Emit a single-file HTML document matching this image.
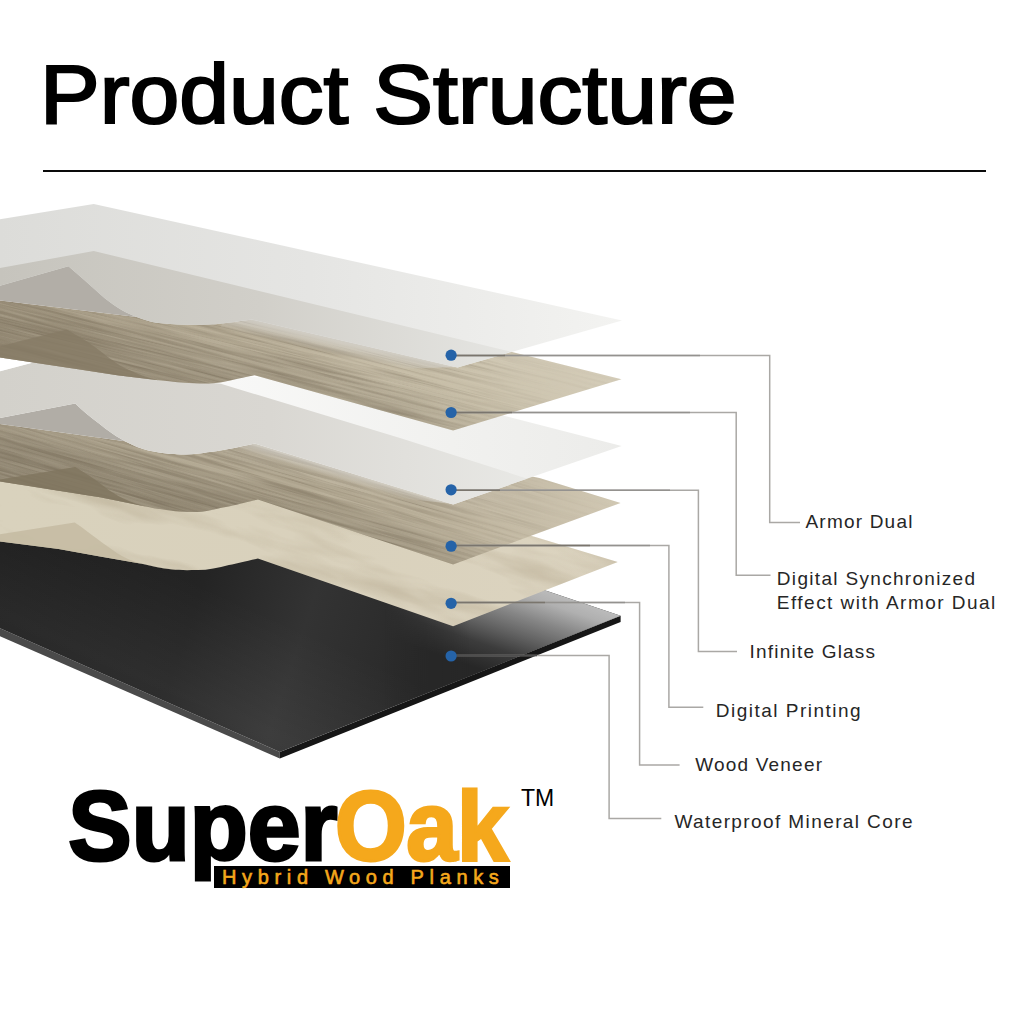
<!DOCTYPE html>
<html>
<head>
<meta charset="utf-8">
<title>Product Structure</title>
<style>
  html, body { margin: 0; padding: 0; background: #ffffff; }
  body { width: 1024px; height: 1024px; position: relative; overflow: hidden;
         font-family: "Liberation Sans", sans-serif; color: #000; }
  #title { position: absolute; left: 40px; top: 44px; font-size: 83.5px; line-height: 100px;
           white-space: nowrap; letter-spacing: 0px; -webkit-text-stroke: 2.2px #000;
           transform-origin: 0 0; transform: scaleX(1.072); }
  #rule { position: absolute; left: 42.7px; top: 169.6px; width: 943.5px; height: 2.2px; background: #0a0a0a; }
  svg#art { position: absolute; left: 0; top: 0; }
  .lbl { position: absolute; font-size: 19px; line-height: 24px; letter-spacing: 1.2px;
         white-space: nowrap; color: #262626; }
  .logo { position: absolute; font-size: 96px; line-height: 110px; font-weight: bold; white-space: nowrap;
          transform-origin: 0 0; }
  #super { left: 68.3px; top: 769.6px; color: #000; -webkit-text-stroke: 3px #000; transform: scale(1.0, 1.025); letter-spacing: 0px; font-size: 95px; }
  #oak { left: 335px; top: 769.6px; color: #f5a81c; -webkit-text-stroke: 3px #f5a81c; transform: scale(0.97, 1.025); letter-spacing: -0.5px; font-size: 95px; }
  #bar { position: absolute; left: 214px; top: 866px; width: 296px; height: 22px; background: #000; }
  #bar span { position: absolute; left: 8px; top: 0px; font-size: 20px; line-height: 22px; font-weight: normal; -webkit-text-stroke: 0.6px #f5a81c;
              letter-spacing: 5.65px; color: #f5a81c; white-space: nowrap; }
  #tm { position: absolute; left: 521px; top: 785px; font-size: 23px; line-height: 26px; }
</style>
</head>
<body>
<div id="title">Product Structure</div>
<div id="rule"></div>

<svg id="art" width="1024" height="1024" viewBox="0 0 1024 1024">
  <defs>
    <!-- layer outlines -->
    <path id="pCoreTop" d="M0,530 L300,530 L547,591 L620.6,615.8 L279.8,752 L0,628.2 Z"/>
    <path id="pVen" d="M0,470 L300,470 L534.6,536.7 L617.7,562 L453.1,626.2 L257.9,558.6 C246,561 238,563.5 228.9,565 C218,568 207,570.2 196.7,570 C187,570.2 180,570.3 170.9,569.3 C160,568 152,566 143,564 L100,556.4 L58.6,548.9 L0,541.5 Z"/>
    <path id="pW4" d="M0,424 L127,441.6 L300,430 L539.5,478.1 L620.6,502.9 L453.1,564.5 L257.9,499.5 C244,502.5 232,506 220.3,508.1 C212,510.5 204,512 196.7,512 C189,512.2 182,512 175.2,511.3 C164,510 153,508 143,505.9 L100,497.3 L0,481.6 Z"/>
    <path id="pG3" d="M0,371.25 L33.2,362.5 L300,380 L497,414 L621.6,446 L453.1,504.4 L254.7,443.6 C246,445.5 238,447.5 228.9,449 C221,450.6 214,451.5 207.4,452.2 C200,453.6 193,454.4 186,454.4 C178,454.6 171,454.3 164.5,453.3 C157,452.4 150,451 143,449 C135,446.5 128,443 121.5,439.3 C114,435 107,430 100,424.3 C91,417.5 83,411 75.2,403.5 L0,418.1 Z"/>
    <path id="pW2" d="M0,300.4 L136.7,317 L250,300 L510,351.5 L621.5,379.2 L453.1,430.5 L254.5,375.3 C243,377.5 232,380.5 223,382 C215,383.2 207,383.8 200,383.5 C185,383 170,381.5 156.25,380 L117.2,375.2 L78.1,369.3 L33.2,362.5 L0,357.4 Z"/>
    <path id="pG1" d="M0,219.3 L93.75,204 L622,320.5 L457.5,367.5 L252,319.6 C236,321.5 220,325 200,324.8 C185,324.8 170,324.6 156.3,322.8 C149,321.5 143,319.5 136.7,317 C129,314 123,311 117.2,307.2 C111,303 106,299.5 101.6,295.5 L84,279.8 L68.4,266.2 L0,285.7 Z"/>
    <clipPath id="cCore"><use href="#pCoreTop"/></clipPath>
    <clipPath id="cVen"><use href="#pVen"/></clipPath>
    <clipPath id="cW4"><use href="#pW4"/></clipPath>
    <clipPath id="cG3"><use href="#pG3"/></clipPath>
    <clipPath id="cW2"><use href="#pW2"/></clipPath>
    <clipPath id="cG1"><use href="#pG1"/></clipPath>

    <linearGradient id="gCoreHi" gradientUnits="userSpaceOnUse" x1="580" y1="602.3" x2="549.6" y2="692.3">
      <stop offset="0" stop-color="#bababa"/>
      <stop offset="0.12" stop-color="#b0b0b0"/>
      <stop offset="0.33" stop-color="#868686"/>
      <stop offset="0.54" stop-color="#616161"/>
      <stop offset="0.74" stop-color="#3c3c3c"/>
      <stop offset="1" stop-color="#272727"/>
    </linearGradient>
    <linearGradient id="gCoreMaskG" gradientUnits="userSpaceOnUse" x1="385" y1="0" x2="470" y2="0">
      <stop offset="0" stop-color="#000"/>
      <stop offset="1" stop-color="#fff"/>
    </linearGradient>
    <mask id="mCoreHi" maskUnits="userSpaceOnUse" x="0" y="500" width="700" height="300">
      <rect x="0" y="500" width="700" height="300" fill="url(#gCoreMaskG)"/>
    </mask>
    <linearGradient id="gCoreBase" gradientUnits="userSpaceOnUse" x1="0" y1="560" x2="420" y2="700">
      <stop offset="0" stop-color="#1e1e1e"/>
      <stop offset="0.45" stop-color="#242424"/>
      <stop offset="0.7" stop-color="#333333"/>
      <stop offset="1" stop-color="#282828"/>
    </linearGradient>
    <linearGradient id="gCoreSheen" gradientUnits="userSpaceOnUse" x1="150" y1="560" x2="60" y2="760">
      <stop offset="0" stop-color="#ffffff" stop-opacity="0"/>
      <stop offset="0.5" stop-color="#ffffff" stop-opacity="0.05"/>
      <stop offset="1" stop-color="#ffffff" stop-opacity="0"/>
    </linearGradient>
    <linearGradient id="gVen" gradientUnits="userSpaceOnUse" x1="0" y1="0" x2="620" y2="0">
      <stop offset="0" stop-color="#d9d2bd"/>
      <stop offset="0.5" stop-color="#d9d1bc"/>
      <stop offset="1" stop-color="#dcd4c0"/>
    </linearGradient>
    <linearGradient id="gW4" gradientUnits="userSpaceOnUse" x1="0" y1="0" x2="620" y2="0">
      <stop offset="0" stop-color="#a89e89"/>
      <stop offset="0.5" stop-color="#aea48e"/>
      <stop offset="0.75" stop-color="#bdb39d"/>
      <stop offset="1" stop-color="#d0c7b2"/>
    </linearGradient>
    <linearGradient id="gW2" gradientUnits="userSpaceOnUse" x1="0" y1="0" x2="620" y2="0">
      <stop offset="0" stop-color="#a79c86"/>
      <stop offset="0.45" stop-color="#b7ad97"/>
      <stop offset="0.75" stop-color="#c9c0aa"/>
      <stop offset="1" stop-color="#d4ccb8"/>
    </linearGradient>
    <linearGradient id="gG1a" gradientUnits="userSpaceOnUse" x1="0" y1="0" x2="620" y2="0">
      <stop offset="0" stop-color="#dcdcd9"/>
      <stop offset="0.5" stop-color="#e5e5e3"/>
      <stop offset="1" stop-color="#f3f3f1"/>
    </linearGradient>
    <linearGradient id="gG1b" gradientUnits="userSpaceOnUse" x1="0" y1="0" x2="520" y2="0">
      <stop offset="0" stop-color="#c6c4bd"/>
      <stop offset="0.5" stop-color="#d1cfc9"/>
      <stop offset="1" stop-color="#e6e6e3"/>
    </linearGradient>
    <linearGradient id="gG3a" gradientUnits="userSpaceOnUse" x1="200" y1="0" x2="620" y2="0">
      <stop offset="0" stop-color="#f9f9f8"/>
      <stop offset="0.6" stop-color="#f1f1ef"/>
      <stop offset="1" stop-color="#ececea"/>
    </linearGradient>
    <linearGradient id="gG3b" gradientUnits="userSpaceOnUse" x1="0" y1="0" x2="540" y2="0">
      <stop offset="0" stop-color="#d3d1cb"/>
      <stop offset="0.5" stop-color="#d9d7d2"/>
      <stop offset="1" stop-color="#e9e9e6"/>
    </linearGradient>

    <linearGradient id="gW2p" gradientUnits="userSpaceOnUse" x1="300" y1="305" x2="281" y2="386">
      <stop offset="0" stop-color="#fff" stop-opacity="0.16"/>
      <stop offset="0.45" stop-color="#fff" stop-opacity="0"/>
      <stop offset="0.55" stop-color="#2a2010" stop-opacity="0"/>
      <stop offset="1" stop-color="#2a2010" stop-opacity="0.16"/>
    </linearGradient>
    <linearGradient id="gW4p" gradientUnits="userSpaceOnUse" x1="300" y1="450" x2="284" y2="516">
      <stop offset="0" stop-color="#fff" stop-opacity="0.16"/>
      <stop offset="0.45" stop-color="#fff" stop-opacity="0"/>
      <stop offset="0.55" stop-color="#2a2010" stop-opacity="0"/>
      <stop offset="1" stop-color="#2a2010" stop-opacity="0.18"/>
    </linearGradient>
    <linearGradient id="gFadeR" gradientUnits="userSpaceOnUse" x1="380" y1="0" x2="560" y2="0">
      <stop offset="0" stop-color="#fff"/>
      <stop offset="1" stop-color="#222"/>
    </linearGradient>
    <mask id="mFadeR" maskUnits="userSpaceOnUse" x="-10" y="150" width="700" height="500">
      <rect x="-10" y="150" width="700" height="500" fill="url(#gFadeR)"/>
    </mask>
    <linearGradient id="gHaze1" gradientUnits="userSpaceOnUse" x1="350" y1="341" x2="346.4" y2="357">
      <stop offset="0" stop-color="#d6d4cf" stop-opacity="0.85"/>
      <stop offset="1" stop-color="#d6d4cf" stop-opacity="0"/>
    </linearGradient>
    <linearGradient id="gHaze3" gradientUnits="userSpaceOnUse" x1="350" y1="472" x2="347" y2="482">
      <stop offset="0" stop-color="#dddbd6" stop-opacity="0.7"/>
      <stop offset="1" stop-color="#dddbd6" stop-opacity="0"/>
    </linearGradient>
    <!-- textures -->
    <filter id="fGrain" x="0" y="0" width="100%" height="100%" color-interpolation-filters="sRGB">
      <feTurbulence type="fractalNoise" baseFrequency="0.008 0.4" numOctaves="4" seed="7"/>
      <feColorMatrix type="matrix" values="0 0 0 0 0.30  0 0 0 0 0.25  0 0 0 0 0.18  2.4 0 0 0 -1.0"/>
    </filter>
    <filter id="fGrainL" x="0" y="0" width="100%" height="100%" color-interpolation-filters="sRGB">
      <feTurbulence type="fractalNoise" baseFrequency="0.007 0.33" numOctaves="4" seed="21"/>
      <feColorMatrix type="matrix" values="0 0 0 0 0.95  0 0 0 0 0.92  0 0 0 0 0.84  2.4 0 0 0 -1.0"/>
    </filter>
    <filter id="fMarble" x="0" y="0" width="100%" height="100%" color-interpolation-filters="sRGB">
      <feTurbulence type="fractalNoise" baseFrequency="0.007 0.035" numOctaves="4" seed="11"/>
      <feColorMatrix type="matrix" values="0 0 0 0 0.55  0 0 0 0 0.48  0 0 0 0 0.36  2.0 0 0 0 -0.9"/>
    </filter>
  </defs>

  <!-- 6. mineral core -->
  <g id="core">
    <path d="M0,628.2 L279.8,752 L279.8,758.5 L0,636.2 Z" fill="#4a4a4a"/>
    <path d="M279.8,752 L620.6,615.8 L620.6,622 L279.8,758.5 Z" fill="#161616"/>
    <use href="#pCoreTop" fill="url(#gCoreBase)"/>
    <g clip-path="url(#cCore)">
      <rect x="0" y="520" width="640" height="250" fill="url(#gCoreSheen)"/>
      <rect x="380" y="520" width="260" height="250" fill="url(#gCoreHi)" mask="url(#mCoreHi)"/>
    </g>
  </g>

  <!-- 5. veneer -->
  <g id="veneer">
    <use href="#pVen" fill="url(#gVen)"/>
    <g clip-path="url(#cVen)">
      <rect x="-100" y="300" width="900" height="400" filter="url(#fMarble)" transform="rotate(17 300 500)" opacity="0.3"/>
      <path d="M0,534.2 L74.7,522.5 C83,528 90,533.5 96.7,538.6 C104,544 110,548.5 117.2,553.2 C125,558 132,561 140.6,563.5 C150,566 158,567.5 175,570 L100,580 L0,560 Z" fill="#c3b9a0" opacity="0.8"/>
    </g>
  </g>

  <!-- 4. wood (digital printing) -->
  <g id="wood4">
    <use href="#pW4" fill="url(#gW4)"/>
    <g clip-path="url(#cW4)">
      <g mask="url(#mFadeR)">
        <rect x="-10" y="400" width="660" height="180" fill="url(#gW4p)"/>
        <rect x="-100" y="250" width="900" height="400" filter="url(#fGrain)" transform="rotate(16 300 480)" opacity="0.3"/>
        <rect x="-100" y="250" width="900" height="400" filter="url(#fGrainL)" transform="rotate(16 300 480)" opacity="0.2"/>
      </g>
      <path d="M0,479.6 L75.2,467 C82,471 88,475 93.75,478.7 C99,482.5 104,486.5 109.4,490.4 C115,494 120,497 125,499.2 C130,501.5 135,503.5 143,505.9 L160,512 L0,490 Z" fill="#80755f" opacity="0.85"/>
    </g>
  </g>

  <path d="M235,444 L254.7,442.6 L453.1,504 L400,498 L252,456 L225,458 Z" fill="url(#gHaze3)"/>

  <!-- 3. glass (infinite glass) -->
  <g id="glass3">
    <path d="M0,417.6 L76,402.8 L95,412 L118,432 L127,441.6 L0,424 Z" fill="#b1ada6"/>
    <use href="#pG3" fill="url(#gG3a)"/>
    <g clip-path="url(#cG3)">
      <path d="M0,371.25 L33.2,362.5 L220.8,383.8 L400,437.9 L529.7,479.4 L453.1,520 L0,520 Z" fill="url(#gG3b)"/>
    </g>
  </g>

  <!-- 2. wood (digital synchronized) -->
  <g id="wood2">
    <use href="#pW2" fill="url(#gW2)"/>
    <g clip-path="url(#cW2)">
      <g mask="url(#mFadeR)">
        <rect x="-10" y="280" width="660" height="180" fill="url(#gW2p)"/>
        <rect x="-100" y="150" width="900" height="400" filter="url(#fGrain)" transform="rotate(14 300 350)" opacity="0.3"/>
        <rect x="-100" y="150" width="900" height="400" filter="url(#fGrainL)" transform="rotate(14 300 350)" opacity="0.2"/>
      </g>
      <path d="M0,346.25 L66.4,329.6 C78,336 85,340 93.75,346.25 C102,352 110,359 117.2,363.8 C125,368.5 140,376 156.3,379.5 L170,390 L0,370 Z" fill="#867b65" opacity="0.8"/>
    </g>
  </g>

  <path d="M225,318 L252,318 L457.5,367 L395,369 L250,338 L215,338 Z" fill="url(#gHaze1)"/>

  <!-- 1. glass (armor dual) -->
  <g id="glass1">
    <path d="M0,285.2 L69,265.5 L90,275 L125,305 L136.7,317 L0,300.4 Z" fill="#b2aea7"/>
    <use href="#pG1" fill="url(#gG1a)"/>
    <g clip-path="url(#cG1)">
      <path d="M0,268.1 L93.75,251 L510,351.5 L457.5,380 L0,380 Z" fill="url(#gG1b)"/>
    </g>
  </g>

  <!-- leader lines -->
  <g id="leaders" fill="none" stroke="#aaa8a5" stroke-width="1.5">
    <path d="M451,355.4 H769.7 V522.5 H800"/>
    <path d="M451,412.6 H736.2 V575.2 H770.5"/>
    <path d="M451,490.3 H698.4 V651.6 H737"/>
    <path d="M451,545.6 H668.9 V707.2 H703.3"/>
    <path d="M451,602.6 H639.6 V765.1 H679.6"/>
    <path d="M451,655.5 H609.1 V818.5 H661.3"/>
  </g>
  <g id="leadersMid" fill="none" stroke="#94928f" stroke-width="1.5">
    <path d="M451,355.4 H700"/>
    <path d="M451,412.6 H690"/>
    <path d="M451,490.3 H670"/>
    <path d="M451,545.6 H650"/>
    <path d="M451,602.6 H625"/>
  </g>
  <g id="leadersDark" fill="none" stroke="#7a756d" stroke-width="1.5">
    <path d="M451,355.4 H505"/>
    <path d="M451,412.6 H512"/>
    <path d="M451,490.3 H500"/>
    <path d="M451,545.6 H590"/>
    <path d="M451,602.6 H545"/>
  </g>
  <path d="M451,655.5 H537" fill="none" stroke="#4e4e4e" stroke-width="1.5"/>
  <g id="dots" fill="#2563a8">
    <circle cx="451.1" cy="355.2" r="5.6"/>
    <circle cx="451.1" cy="412.5" r="5.6"/>
    <circle cx="451.1" cy="489.8" r="5.6"/>
    <circle cx="451.1" cy="546.2" r="5.6"/>
    <circle cx="451.1" cy="603.3" r="5.6"/>
    <circle cx="451.1" cy="656" r="5.6"/>
  </g>
</svg>

<div class="lbl" style="left:805.5px; top:509.8px;">Armor Dual</div>
<div class="lbl" style="left:776.8px; top:567.2px; letter-spacing:1.32px;">Digital Synchronized</div>
<div class="lbl" style="left:776.8px; top:591.4px; letter-spacing:1.47px;">Effect with Armor Dual</div>
<div class="lbl" style="left:749.6px; top:640.2px;">Infinite Glass</div>
<div class="lbl" style="left:715.7px; top:698.6px; letter-spacing:1.5px;">Digital Printing</div>
<div class="lbl" style="left:695.2px; top:753.2px;">Wood Veneer</div>
<div class="lbl" style="left:674.4px; top:809.5px; letter-spacing:1.4px;">Waterproof Mineral Core</div>

<div id="super" class="logo">Super</div>
<div id="oak" class="logo">Oak</div>
<div id="bar"><span>Hybrid Wood Planks</span></div>
<div id="tm">TM</div>
</body>
</html>
